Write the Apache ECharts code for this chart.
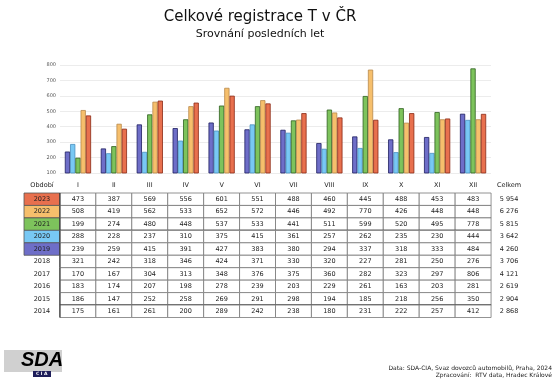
<!DOCTYPE html>
<html><head><meta charset="utf-8">
<script src="https://cdn.jsdelivr.net/npm/echarts@6/dist/echarts.min.js"></script>
<style>html,body{margin:0;padding:0;background:#fff}#c{width:555px;height:388px}</style>
</head><body><div id="c"></div>
<script>
const months = ['I','II','III','IV','V','VI','VII','VIII','IX','X','XI','XII'];
const barYears = ['2019','2020','2021','2022','2023'];
const y2023 = [473,387,569,556,601,551,488,460,445,488,453,483];
const y2022 = [508,419,562,533,652,572,446,492,770,426,448,448];
const y2021 = [199,274,480,448,537,533,441,511,599,520,495,778];
const y2020 = [288,228,237,310,375,415,361,257,262,235,230,444];
const y2019 = [239,259,415,391,427,383,380,294,337,318,333,484];
const y2018 = [321,242,318,346,424,371,330,320,227,281,250,276];
const y2017 = [170,167,304,313,348,376,375,360,282,323,297,806];
const y2016 = [183,174,207,198,278,239,203,229,261,163,203,281];
const y2015 = [186,147,252,258,269,291,298,194,185,218,256,350];
const y2014 = [175,161,261,200,289,242,238,180,231,222,257,412];
const tableYears = ['2023','2022','2021','2020','2019','2018','2017','2016','2015','2014'];
const totals = ['5 954','6 276','5 815','3 642','4 260','3 706','4 121','2 619','2 904','2 868'];
const yTicks = [100,200,300,400,500,600,700,800];

const tableRows = [y2023,y2022,y2021,y2020,y2019,y2018,y2017,y2016,y2015,y2014];
const barSeriesData = [y2019,y2020,y2021,y2022,y2023];
const fills = {'2019':'#6e6ec8','2020':'#78c8f4','2021':'#7dc35c','2022':'#f6bf6c','2023':'#e8704e'};
const borders = {'2019':'#1e1e60','2020':'#4a8fbf','2021':'#2d5f1e','2022':'#b8884a','2023':'#8a2814'};
const headers = ['Období'].concat(months, ['Celkem']);
const darkBelow = {'2021': true, '2015': true};

const cells = [], cellText = [];
for (let r = 0; r < tableYears.length; r++) {
  for (let c = 0; c < 14; c++) {
    cells.push([c, r]);
    cellText.push(c === 0 ? tableYears[r] : (c === 13 ? totals[r] : String(tableRows[r][c-1])));
  }
}
const FONT = 'DejaVu Sans';

function renderCell(params, api) {
  const c = api.value(0), r = api.value(1);
  const p = api.coord([c, r]);
  const s = api.size([1, 1]);
  const x = p[0] - s[0]/2, y = p[1] - s[1]/2;
  const yr = tableYears[r];
  let fill = 'rgba(0,0,0,0)', stroke = 'rgba(0,0,0,0)';
  if (c === 0) { if (fills[yr]) { fill = fills[yr]; stroke = '#555'; } }
  else if (c < 13) { fill = '#fff'; stroke = '#777'; }
  const children = [{
    type: 'rect',
    shape: {x: x, y: y, width: s[0], height: s[1]},
    style: {fill: fill, stroke: stroke, lineWidth: 0.8},
    textContent: {style: {text: cellText[params.dataIndex], fontSize: 6.5, fontFamily: FONT, fill: '#222'}},
    textConfig: {position: 'inside'}
  }];
  if (c >= 1 && c <= 12 && darkBelow[yr]) {
    children.push({type: 'line', shape: {x1: x, y1: y + s[1], x2: x + s[0], y2: y + s[1]}, style: {stroke: '#111', lineWidth: 1.2}});
  }
  if (c === 1) {
    children.push({type: 'line', shape: {x1: x, y1: y, x2: x, y2: y + s[1]}, style: {stroke: '#222', lineWidth: 1}});
  }
  return {type: 'group', children: children};
}

const chart = echarts.init(document.getElementById('c'), null, {renderer: 'canvas'});
chart.setOption({
  animation: false,
  backgroundColor: '#fff',
  grid: [
    {left: 60, right: 64, top: 65, bottom: 215},
    {left: 24, right: 28, top: 193, bottom: 70.5}
  ],
  xAxis: [
    {type: 'category', gridIndex: 0, data: months, axisLine: {show: false}, axisTick: {show: false}, axisLabel: {show: false}},
    {type: 'category', gridIndex: 1, data: headers, position: 'top', axisLine: {show: false}, axisTick: {show: false},
     axisLabel: {margin: 4, fontSize: 6.5, fontFamily: FONT, color: '#222'}}
  ],
  yAxis: [
    {type: 'value', gridIndex: 0, min: yTicks[0], max: yTicks[yTicks.length-1], interval: 100,
     axisLine: {show: false}, axisTick: {show: false},
     axisLabel: {fontSize: 5, fontFamily: FONT, color: '#555', margin: 4},
     splitLine: {lineStyle: {color: '#ececec', width: 1}}},
    {type: 'category', gridIndex: 1, data: tableYears, inverse: true, show: false}
  ],
  series: barYears.map((yr, i) => ({
    type: 'bar', name: yr, xAxisIndex: 0, yAxisIndex: 0, data: barSeriesData[i],
    barGap: '0%', barCategoryGap: '27%',
    itemStyle: {color: fills[yr], borderColor: borders[yr], borderWidth: 0.8}
  })).concat([{
    type: 'custom', xAxisIndex: 1, yAxisIndex: 1, data: cells, renderItem: renderCell
  }]),
  graphic: [
    {type: 'text', x: 260, y: 17, style: {text: 'Celkové registrace T v ČR', font: '15px "DejaVu Sans"', fill: '#111', align: 'center', verticalAlign: 'middle'}},
    {type: 'text', x: 260, y: 34, style: {text: 'Srovnání posledních let', font: '11px "DejaVu Sans"', fill: '#111', align: 'center', verticalAlign: 'middle'}},
    {type: 'rect', left: 4, top: 350, shape: {width: 58, height: 22}, style: {fill: '#d0d0d0'}},
    {type: 'text', left: 21, top: 350, style: {text: 'SDA', font: 'italic bold 20px "Liberation Sans"', fill: '#000'}},
    {type: 'rect', left: 33, top: 371, shape: {width: 18, height: 6}, style: {fill: '#1e1e5a'}},
    {type: 'text', left: 36, top: 371.5, style: {text: 'C I A', font: 'bold 4.5px "DejaVu Sans"', fill: '#fff'}},
    {type: 'text', x: 552, y: 368, style: {text: 'Data: SDA-CIA, Svaz dovozců automobilů, Praha, 2024', font: '6px "DejaVu Sans"', fill: '#222', align: 'right', verticalAlign: 'middle'}},
    {type: 'text', x: 552, y: 375, style: {text: 'Zpracování:  RTV data, Hradec Králové', font: '6px "DejaVu Sans"', fill: '#222', align: 'right', verticalAlign: 'middle'}}
  ]
});
</script></body></html>
